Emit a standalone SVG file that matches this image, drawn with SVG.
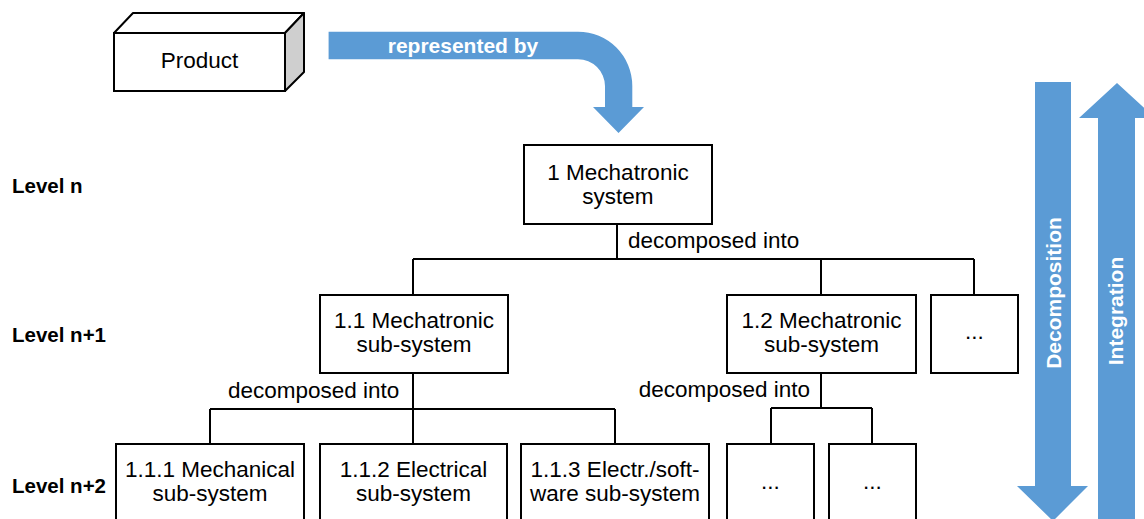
<svg xmlns="http://www.w3.org/2000/svg" width="1144" height="519" viewBox="0 0 1144 519">
<style>
.box{fill:#fff;stroke:#000;stroke-width:2}
.t{font-family:"Liberation Sans",Arial,sans-serif;font-size:22.5px;fill:#000;text-anchor:middle}
.tl{font-family:"Liberation Sans",Arial,sans-serif;font-size:22.5px;fill:#000}
.lv{font-family:"Liberation Sans",Arial,sans-serif;font-size:20.5px;font-weight:bold;fill:#000}
.wb{font-family:"Liberation Sans",Arial,sans-serif;font-size:21px;font-weight:bold;fill:#fff;text-anchor:middle}
.blue{fill:#5b9bd5}
.ln{stroke:#000;stroke-width:2;fill:none}
</style>
<rect width="1144" height="519" fill="#fff"/>
<g id="product">
<polygon points="114,33 133,13 304,13 285,33" fill="#fff" stroke="#000" stroke-width="2" stroke-linejoin="round"/>
<polygon points="285,33 304,13 304,72 285,91" fill="#cfcfcf" stroke="#000" stroke-width="2" stroke-linejoin="round"/>
<rect class="box" x="114" y="33" width="171" height="58"/>
<text class="t" x="199.5" y="68">Product</text>
</g>
<g id="represented-arrow">
<path class="blue" d="M328.6 31.7 L578 31.7 A54.3 54.3 0 0 1 632.3 86 L632.3 107 L644 107 L618.5 133 L593 107 L605 107 L605 86 A27 27 0 0 0 578 59.3 L328.6 59.3 Z"/>
<text class="wb" x="463" y="53">represented by</text>
</g>
<g id="levels">
<text class="lv" x="12" y="193">Level n</text>
<text class="lv" x="12" y="342">Level n+1</text>
<text class="lv" x="12" y="493">Level n+2</text>
</g>
<g id="connectors">
<path class="ln" d="M617 224 V259 M413 259 H974 M413 259 V295 M821 259 V295 M974 259 V295"/>
<path class="ln" d="M413 374 V444 M210 409 H615 M210 409 V444 M615 409 V444"/>
<path class="ln" d="M821 373 V408 M771 408 H872 M771 408 V444 M872 408 V444"/>
<text class="tl" x="628" y="248">decomposed into</text>
<text class="tl" x="228" y="398">decomposed into</text>
<text class="tl" x="810" y="397" text-anchor="end">decomposed into</text>
</g>
<g id="n1">
<rect class="box" x="524" y="145" width="188" height="79"/>
<text class="t" x="618" y="180">1 Mechatronic</text>
<text class="t" x="618" y="204">system</text>
</g>
<g id="n1-1">
<rect class="box" x="320" y="295" width="188" height="78"/>
<text class="t" x="414" y="328">1.1 Mechatronic</text>
<text class="t" x="414" y="352">sub-system</text>
</g>
<g id="n1-2">
<rect class="box" x="727" y="295" width="189" height="78"/>
<text class="t" x="821.5" y="328">1.2 Mechatronic</text>
<text class="t" x="821.5" y="352">sub-system</text>
</g>
<g id="n1-3">
<rect class="box" x="931" y="295" width="87" height="78"/>
<text class="t" x="974.5" y="339">...</text>
</g>
<g id="n1-1-1">
<rect class="box" x="116" y="444" width="188" height="90"/>
<text class="t" x="210" y="477">1.1.1 Mechanical</text>
<text class="t" x="210" y="501">sub-system</text>
</g>
<g id="n1-1-2">
<rect class="box" x="320" y="444" width="187" height="90"/>
<text class="t" x="413.5" y="477">1.1.2 Electrical</text>
<text class="t" x="413.5" y="501">sub-system</text>
</g>
<g id="n1-1-3">
<rect class="box" x="521" y="444" width="188" height="90"/>
<text class="t" x="615" y="477">1.1.3 Electr./soft-</text>
<text class="t" x="615" y="501">ware sub-system</text>
</g>
<g id="n1-2-1">
<rect class="box" x="727" y="444" width="87" height="90"/>
<text class="t" x="770.5" y="489">...</text>
</g>
<g id="n1-2-2">
<rect class="box" x="829" y="444" width="87" height="90"/>
<text class="t" x="872.5" y="489">...</text>
</g>
<g id="decomposition">
<path class="blue" d="M1035 82 L1071 82 L1071 486 L1088 486 L1053 521 L1017 486 L1035 486 Z"/>
<text class="wb" transform="translate(1060.5,293) rotate(-90)">Decomposition</text>
</g>
<g id="integration">
<path class="blue" d="M1117 83 L1155 118 L1135 118 L1135 530 L1098 530 L1098 118 L1079 118 Z"/>
<text class="wb" transform="translate(1123,311) rotate(-90)">Integration</text>
</g>
</svg>
